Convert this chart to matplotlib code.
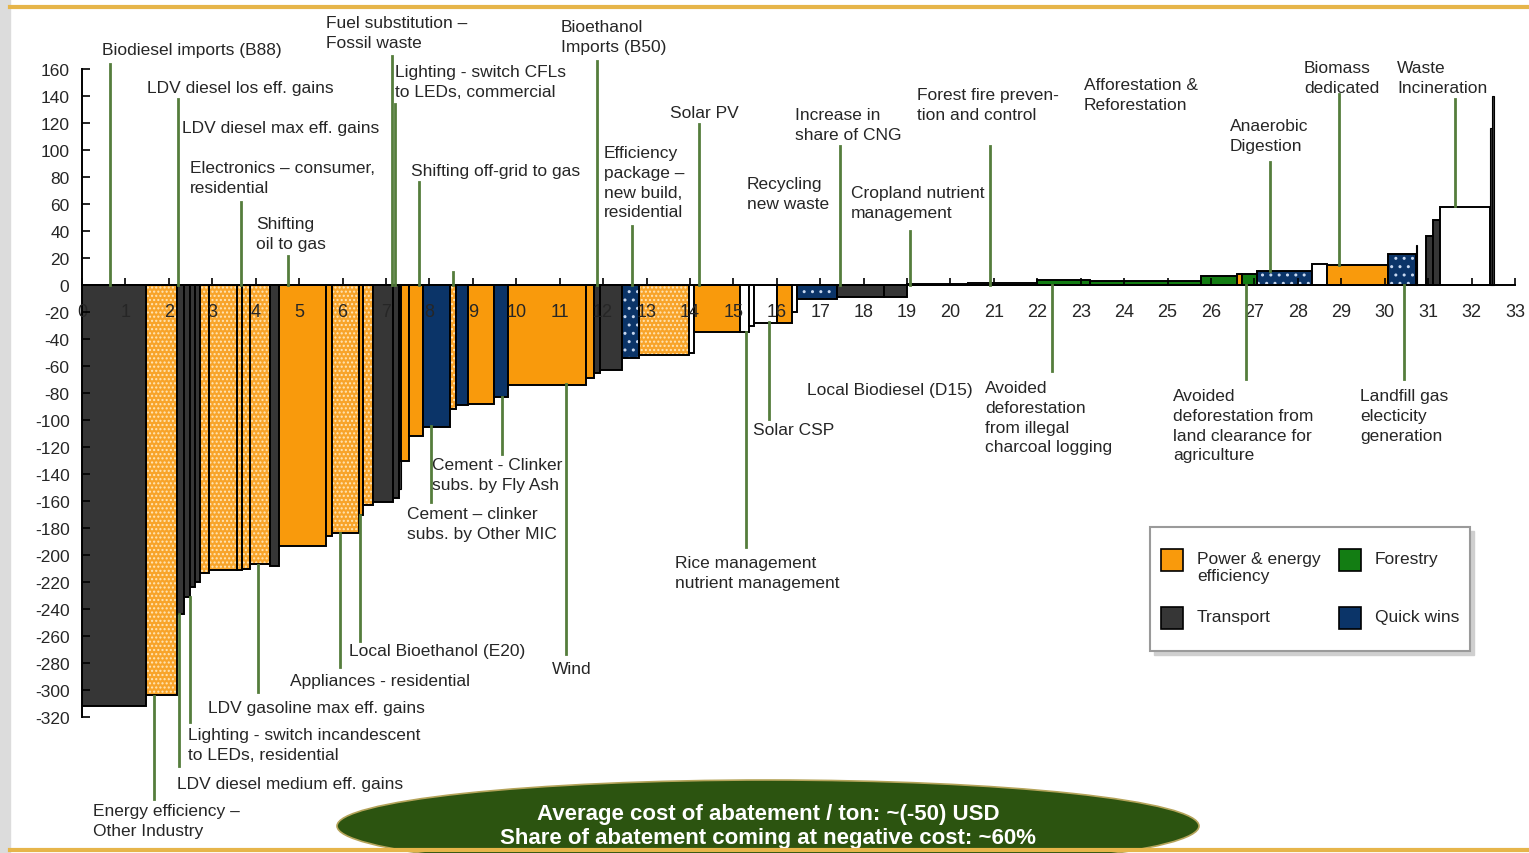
import matplotlib
matplotlib.use("Agg")
import matplotlib.pyplot as plt
import matplotlib.transforms as mtransforms
from matplotlib.patches import Rectangle, Ellipse
from matplotlib.lines import Line2D

W, H = 1529, 854

# abatement levers: left edge (Mt CO2e, cumulative), width, cost (USD/t), sector style
bar_left = [0.00, 1.48, 2.18, 2.35, 2.49, 2.60, 2.72, 2.93, 3.56, 3.69,
            3.87, 4.32, 4.53, 5.61, 5.75, 6.38, 6.48, 6.71, 7.17, 7.29,
            7.35, 7.52, 7.86, 8.48, 8.62, 8.90, 9.49, 9.80, 11.61, 11.78,
            11.94, 12.44, 12.82, 13.97, 14.10, 15.16, 15.36, 15.47, 16.01, 16.35,
            16.47, 17.39, 18.46, 19.00, 20.40, 22.00, 23.22, 25.76, 26.59, 26.72,
            27.07, 28.32, 28.66, 30.07, 30.72, 30.95, 31.12, 31.27, 32.42, 32.48]
bar_width = [1.48, 0.70, 0.17, 0.14, 0.11, 0.12, 0.21, 0.63, 0.13, 0.18,
             0.45, 0.21, 1.08, 0.14, 0.63, 0.10, 0.23, 0.46, 0.12, 0.06,
             0.17, 0.34, 0.62, 0.14, 0.28, 0.59, 0.31, 1.81, 0.17, 0.16,
             0.50, 0.38, 1.15, 0.13, 1.06, 0.20, 0.11, 0.54, 0.34, 0.12,
             0.92, 1.07, 0.54, 1.40, 1.60, 1.22, 2.54, 0.83, 0.13, 0.35,
             1.25, 0.34, 1.41, 0.65, 0.03, 0.17, 0.15, 1.15, 0.05, 0.03]
bar_cost = [-312, -304, -244, -231, -224, -220, -213, -211, -211, -210,
            -207, -208, -193, -186, -184, -170, -163, -161, -158, -151,
            -130, -112, -105, -92, -89, -88, -83, -74, -69, -65,
            -63, -54, -52, -50, -35, -35, -30, -28, -28, -20,
            -10, -9, -9, 1.0, 1.5, 4, 3, 6.5, 8, 8,
            10.5, 15.5, 15, 23, 30, 36, 48, 58, 116, 140]
bar_style = ["T", "Ps", "T", "T", "T", "T", "Ps", "Ps", "Ps", "Ps",
             "Ps", "T", "P", "P", "Ps", "P", "Ps", "T", "T", "T",
             "P", "P", "Q", "Ps", "Q", "P", "Q", "P", "P", "T",
             "T", "Qd", "Ps", "W", "P", "W", "W", "W", "P", "W",
             "Qd", "T", "T", "W", "W", "F", "F", "F", "P", "F",
             "Qd", "W", "P", "Qd", "T", "T", "T", "W", "T", "T"]

orange = "#f99a0c"
dark = "#363636"
navy = "#0b3468"
green = "#137d13"
olive = "#557d3c"
txt = "#262626"

styles = {
    "T": dict(fc=dark, hatch=None, hc=None),
    "P": dict(fc=orange, hatch=None, hc=None),
    "Ps": dict(fc="#f8a42a", hatch="....", hc="#ffe6b8"),
    "Q": dict(fc=navy, hatch=None, hc=None),
    "Qd": dict(fc=navy, hatch="..", hc="#c8d8f0"),
    "F": dict(fc=green, hatch=None, hc=None),
    "W": dict(fc="white", hatch=None, hc=None),
}

y_ticks = list(range(-320, 161, 20))
x_ticks = list(range(0, 34))

plt.rcParams["font.family"] = ["Liberation Sans", "DejaVu Sans"]
plt.rcParams["axes.unicode_minus"] = False

fig = plt.figure(figsize=(W / 100, H / 100), dpi=100)
fig.patch.set_facecolor("white")
px = mtransforms.Affine2D().scale(1 / W, -1 / H).translate(0, 1) + fig.transFigure

# axes: x 0..33 -> px 82..1515, y -320..160 -> px 718..70
ax = fig.add_axes([82 / W, (H - 718) / H, (1515 - 82) / W, (718 - 70) / H])
ax.set_xlim(0, 33)
ax.set_ylim(-320, 160)
ax.patch.set_alpha(0)

for l, w, c, s in zip(bar_left, bar_width, bar_cost, bar_style):
    st = styles[s]
    lw = 1.4 if w > 0.06 else 0.8
    if st["hatch"]:
        ax.bar(l, c, width=w, align="edge", color=st["fc"], edgecolor=st["hc"],
               hatch=st["hatch"], linewidth=0, zorder=2)
        ax.bar(l, c, width=w, align="edge", facecolor="none", edgecolor="black",
               linewidth=lw, zorder=3)
    else:
        ax.bar(l, c, width=w, align="edge", color=st["fc"], edgecolor="black",
               linewidth=lw, zorder=3)

for sp in ["top", "right"]:
    ax.spines[sp].set_visible(False)
ax.spines["bottom"].set_position(("data", 0))
ax.spines["bottom"].set_zorder(5)
ax.spines["left"].set_zorder(5)
ax.spines["bottom"].set_linewidth(1.4)
ax.spines["left"].set_linewidth(1.4)
ax.set_yticks(y_ticks)
ax.set_xticks(x_ticks)
ax.tick_params(axis="y", direction="in", length=6, width=1.2, labelsize=12.5,
               pad=9, labelcolor=txt)
ax.tick_params(axis="x", direction="in", length=5, width=1.2, labelsize=13,
               pad=13, labelcolor=txt)
ax.xaxis.set_zorder(6)
ax.yaxis.set_zorder(6)

# frame decoration
fig.patches.append(Rectangle((0, 0), 10, H, transform=px, color="#dcdcdc", zorder=0))
fig.lines.append(Line2D([10, W], [8, 8], transform=px, color="#e6b54a", lw=3))

# leader lines (pixel layout)
leaders = [
    (110, 65, 286), (392, 57, 286), (597, 62, 286), (395, 105, 286),
    (178, 100, 286), (241, 203, 286), (419, 183, 286), (453, 273, 286),
    (288, 257, 286), (632, 227, 286), (699, 125, 286), (840, 147, 286),
    (910, 232, 286), (990, 147, 286), (1270, 163, 272), (1339, 95, 266),
    (1455, 100, 207),
    (1052, 286, 372), (769, 323, 420), (502, 398, 455), (431, 427, 503),
    (1246, 286, 380), (1404, 286, 380), (746, 333, 548), (360, 516, 642),
    (566, 385, 655), (340, 534, 668), (258, 566, 693), (190, 598, 723),
    (179, 615, 767), (154, 697, 800),
]
for x, y0, y1 in leaders:
    fig.lines.append(Line2D([x, x], [y0, y1], transform=px, color=olive, lw=2, zorder=1))

labels = [
    ("Biodiesel imports (B88)", 102, 43),
    ("Fuel substitution \u2013\nFossil waste", 326, 16),
    ("Bioethanol\nImports (B50)", 561, 20),
    ("Lighting - switch CFLs\nto LEDs, commercial", 395, 65),
    ("LDV diesel los eff. gains", 147, 81),
    ("LDV diesel max eff. gains", 182, 121),
    ("Electronics \u2013 consumer,\nresidential", 190, 161),
    ("Shifting off-grid to gas", 411, 164),
    ("Shifting\noil to gas", 256, 217),
    ("Efficiency\npackage \u2013\nnew build,\nresidential", 604, 146),
    ("Solar PV", 670, 106),
    ("Increase in\nshare of CNG", 795, 108),
    ("Recycling\nnew waste", 747, 177),
    ("Cropland nutrient\nmanagement", 851, 186),
    ("Forest fire preven-\ntion and control", 917, 88),
    ("Afforestation &\nReforestation", 1084, 78),
    ("Anaerobic\nDigestion", 1230, 119),
    ("Biomass\ndedicated", 1304, 61),
    ("Waste\nIncineration", 1397, 61),
    ("Local Biodiesel (D15)", 807, 383),
    ("Avoided\ndeforestation\nfrom illegal\ncharcoal logging", 985, 381),
    ("Solar CSP", 753, 423),
    ("Cement - Clinker\nsubs. by Fly Ash", 432, 458),
    ("Cement \u2013 clinker\nsubs. by Other MIC", 407, 507),
    ("Avoided\ndeforestation from\nland clearance for\nagriculture", 1173, 389),
    ("Landfill gas\nelecticity\ngeneration", 1360, 389),
    ("Rice management\nnutrient management", 675, 556),
    ("Local Bioethanol (E20)", 349, 644),
    ("Wind", 552, 662),
    ("Appliances - residential", 290, 674),
    ("LDV gasoline max eff. gains", 208, 701),
    ("Lighting - switch incandescent\nto LEDs, residential", 188, 728),
    ("LDV diesel medium eff. gains", 177, 777),
    ("Energy efficiency \u2013\nOther Industry", 93, 804),
]
for s, x, y in labels:
    fig.text(x, y, s, transform=px, ha="left", va="top", fontsize=12.5,
             color=txt, linespacing=1.4, zorder=4)

# legend box
fig.patches.append(Rectangle((1154, 532), 320, 124, transform=px, color="#cfcfcf", zorder=3))
fig.patches.append(Rectangle((1150, 528), 320, 124, transform=px, facecolor="white",
                             edgecolor="#9a9a9a", lw=1.5, zorder=3))
legend_items = [
    (orange, "Power & energy\nefficiency", 1161, 550),
    (green, "Forestry", 1339, 550),
    (dark, "Transport", 1161, 608),
    (navy, "Quick wins", 1339, 608),
]
for col, name, x, y in legend_items:
    fig.patches.append(Rectangle((x, y), 22, 22, transform=px, facecolor=col,
                                 edgecolor="black", lw=1.2, zorder=4))
    fig.text(x + 36, y + 2, name, transform=px, ha="left", va="top", fontsize=12.5,
             color=txt, linespacing=1.2, zorder=4)

# summary ellipse
fig.patches.append(Ellipse((768, 827), 862, 92, transform=px, facecolor="#2c5410",
                           edgecolor="#b5a45a", lw=1.2, zorder=3))
fig.text(768, 815, "Average cost of abatement / ton: ~(-50) USD", transform=px,
         ha="center", va="center", fontsize=16, fontweight="bold", color="white", zorder=4)
fig.text(768, 839, "Share of abatement coming at negative cost: ~60%", transform=px,
         ha="center", va="center", fontsize=16, fontweight="bold", color="white", zorder=4)
fig.lines.append(Line2D([10, W], [851, 851], transform=px, color="#e6b54a", lw=3, zorder=5))

fig.savefig("out.png", dpi=100)
